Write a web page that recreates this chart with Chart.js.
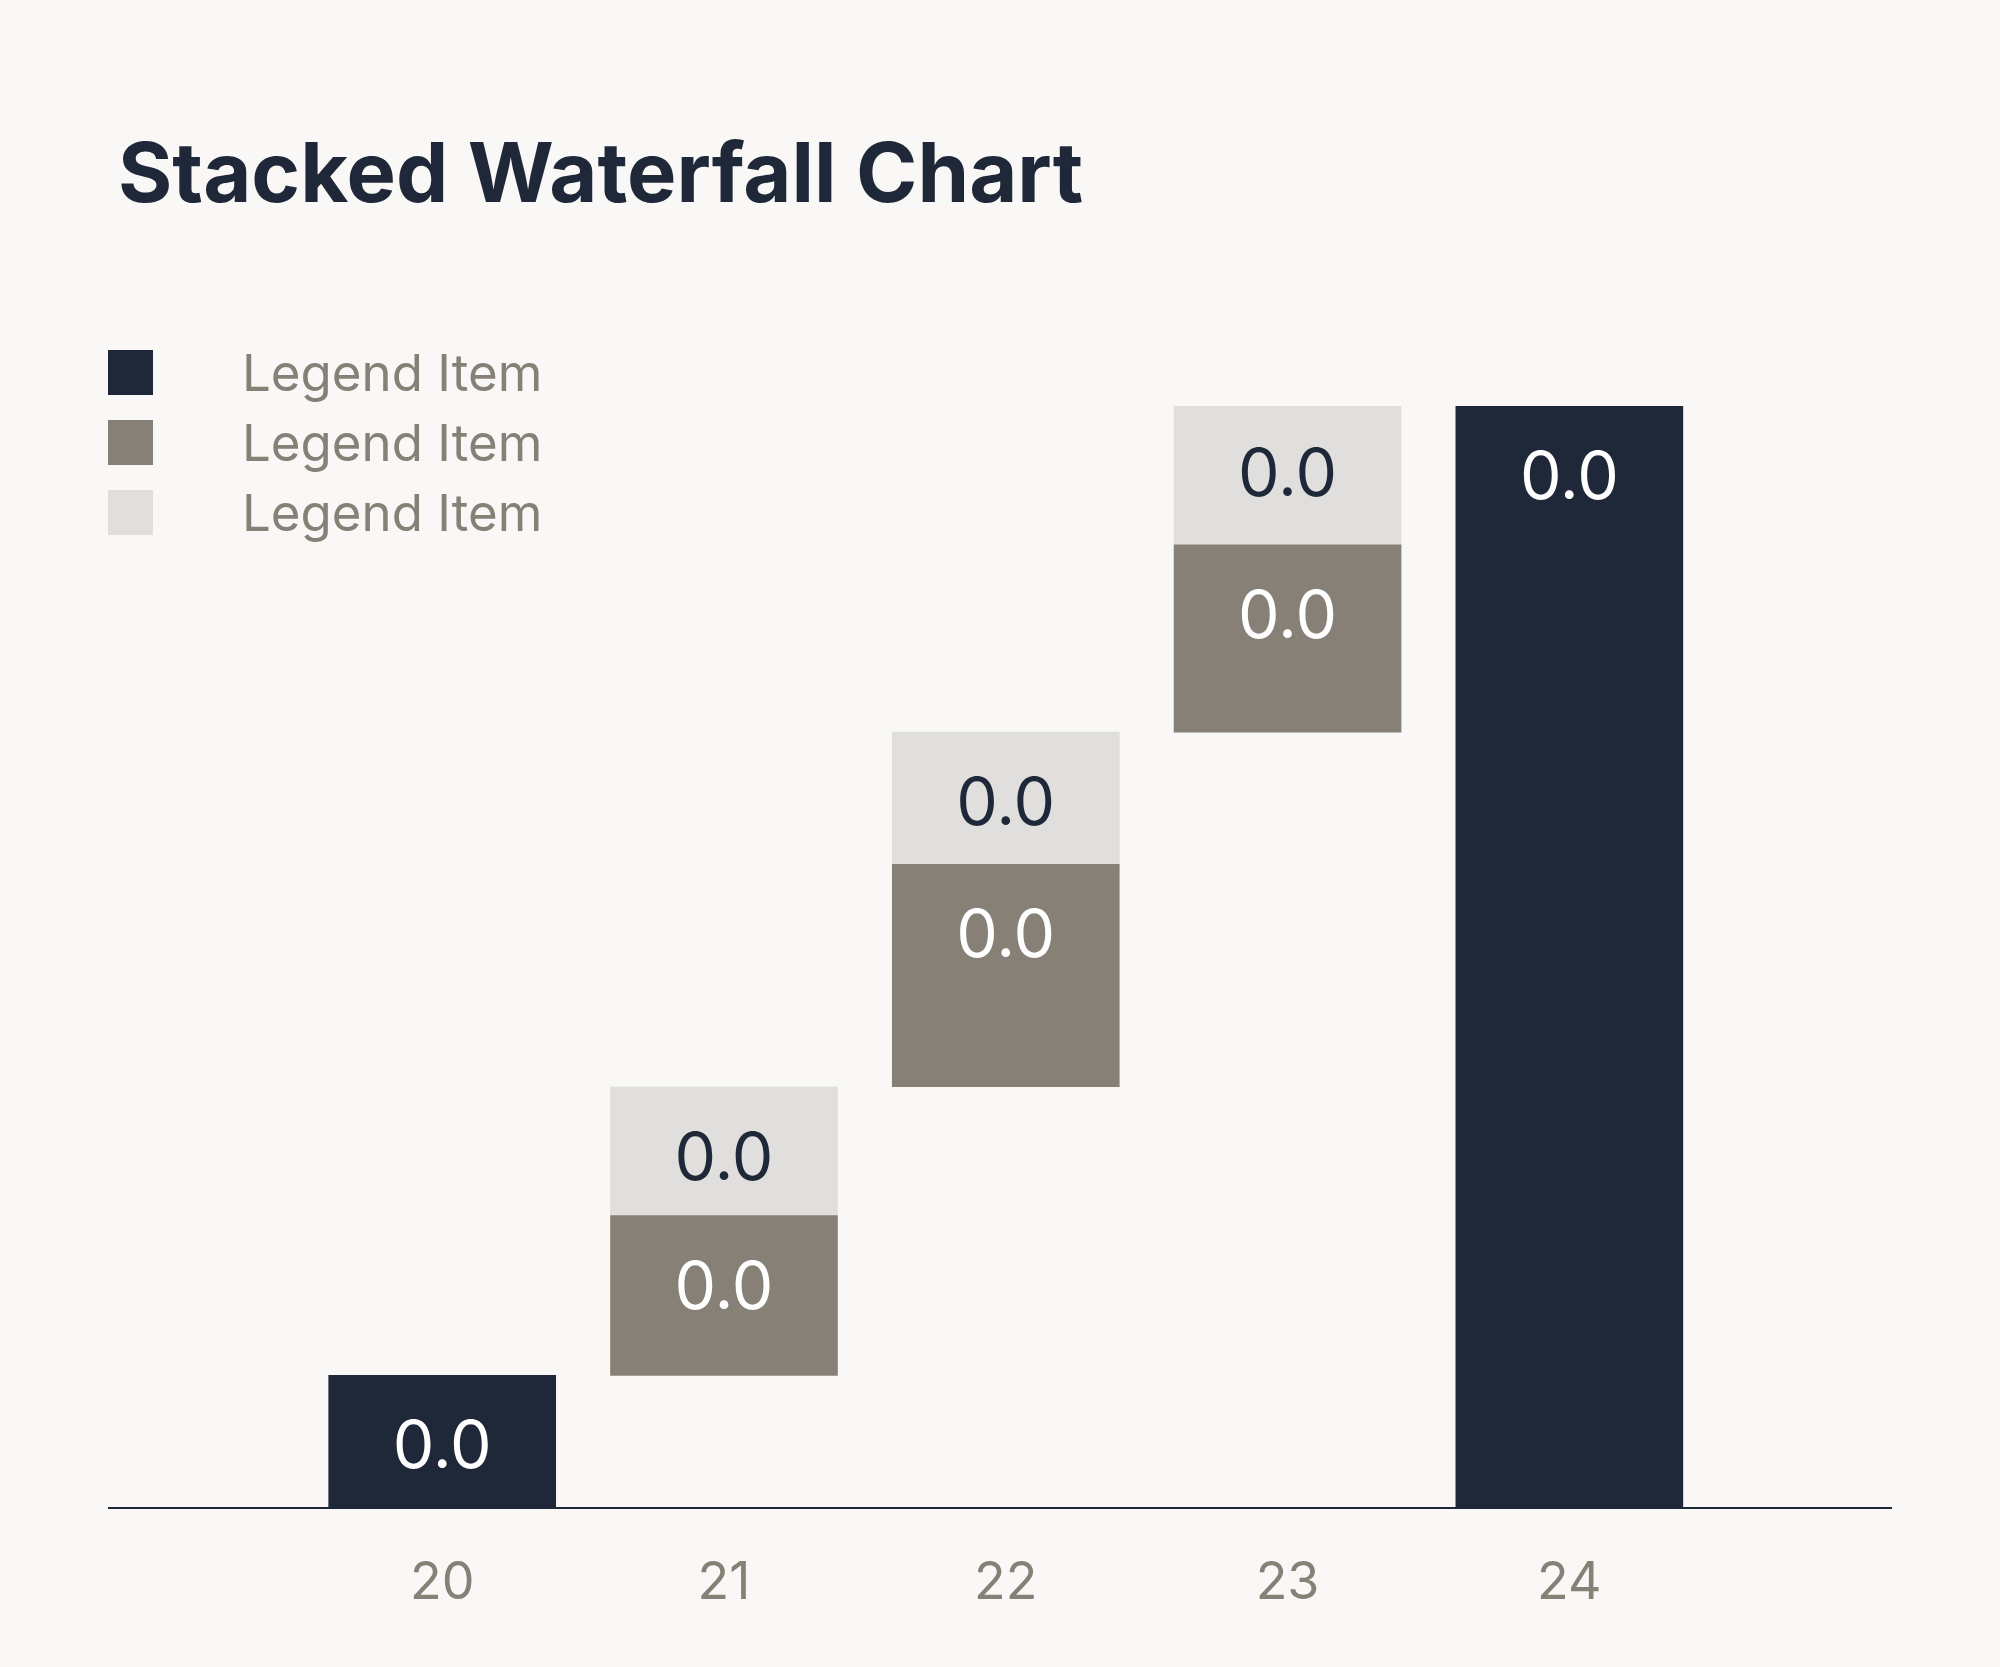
<!DOCTYPE html>
<html>
<head>
<meta charset="utf-8">
<script src="https://cdn.jsdelivr.net/npm/chart.js@4"></script>
<style>
  body { margin: 0; width: 2000px; height: 1667px; background: #f9f8f6; position: relative; overflow: hidden; font-family: Inter, "Noto Sans", sans-serif; }
  h1 { position: absolute; left: 118px; top: 122px; margin: 0; font-size: 83px; font-weight: 700; color: #1f2838; }
  .legend { position: absolute; left: 108px; top: 337px; }
  .legend div { height: 70px; display: flex; align-items: center; font-size: 51px; color: #878077; }
  .legend span { display: inline-block; width: 45px; height: 45px; margin-right: 89px; }
  #wrap { position: absolute; left: 108px; top: 406px; width: 1784px; height: 1261px; }
</style>
</head>
<body>
<h1>Stacked Waterfall Chart</h1>
<div class="legend" id="legend"></div>
<div id="wrap"><canvas id="chart"></canvas></div>
<script>
const categories = [20, 21, 22, 23, 24];
const totals = [12, null, null, null, 100];
const grayDeltas = [null, 14.5, 20.2, 17, null];
const lightDeltas = [null, 11.7, 12, 12.9, null];
const valueLabels = ["0.0", "0.0", "0.0", "0.0", "0.0"];
const legendLabels = ["Legend Item", "Legend Item", "Legend Item"];
const colors = ["#1f2838", "#878077", "#e0dfdd"];
const labelColors = ["#ffffff", "#ffffff", "#1f2838"];

// running base for the floating steps
const darkData = [], grayData = [], lightData = [];
let level = 0;
categories.forEach((c, i) => {
  if (totals[i] !== null) {
    darkData.push({ x: c, y: [0, totals[i]] });
    level = totals[i];
  } else {
    grayData.push({ x: c, y: [level, level + grayDeltas[i]] });
    level += grayDeltas[i];
    lightData.push({ x: c, y: [level, level + lightDeltas[i]] });
    level += lightDeltas[i];
  }
});

const legend = document.getElementById("legend");
legendLabels.forEach((l, i) => {
  const d = document.createElement("div");
  d.innerHTML = `<span style="background:${colors[i]}"></span>${l}`;
  legend.appendChild(d);
});

const valueLabelPlugin = {
  id: "valueLabels",
  afterDatasetsDraw(chart) {
    const ctx = chart.ctx;
    ctx.save();
    ctx.font = "66px Inter, 'Noto Sans', sans-serif";
    ctx.textAlign = "center";
    ctx.textBaseline = "middle";
    chart.data.datasets.forEach((ds, di) => {
      chart.getDatasetMeta(di).data.forEach((bar, j) => {
        const idx = categories.indexOf(ds.data[j].x);
        ctx.fillStyle = labelColors[di];
        ctx.fillText(valueLabels[idx], bar.x, bar.y + 73);
      });
    });
    ctx.restore();
  }
};

const mk = (data, i) => ({
  data: data,
  backgroundColor: colors[i],
  barThickness: 227,
  grouped: false,
  borderSkipped: false
});

new Chart(document.getElementById("chart"), {
  type: "bar",
  data: { datasets: [mk(darkData, 0), mk(grayData, 1), mk(lightData, 2)] },
  options: {
    responsive: true,
    maintainAspectRatio: false,
    animation: false,
    layout: { padding: { left: 0, right: 0, top: 0, bottom: 7 } },
    plugins: { legend: { display: false }, tooltip: { enabled: false } },
    scales: {
      x: {
        type: "linear",
        offset: false,
        min: 18.814,
        max: 25.145,
        grid: { display: false, drawTicks: false, offset: false },
        border: { display: true, color: "#1f2838", width: 2 },
        afterBuildTicks: (axis) => { axis.ticks = categories.map(v => ({ value: v })); },
        ticks: {
          color: "#878077",
          font: { size: 52, family: "Inter, 'Noto Sans', sans-serif" },
          padding: 45,
          callback: (v) => String(v)
        }
      },
      y: { display: false, min: 0, max: 100 }
    }
  },
  plugins: [valueLabelPlugin]
});
</script>
</body>
</html>
